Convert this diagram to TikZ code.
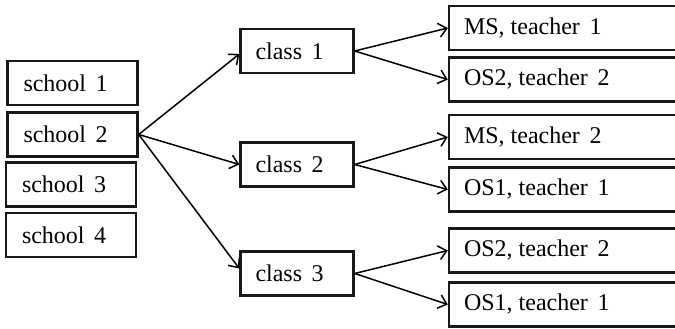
\documentclass[tikz,border=0pt]{standalone}
\usepackage{fontspec}
\setmainfont{Liberation Serif}
\usetikzlibrary{arrows.meta}
\begin{document}
\begin{tikzpicture}[x=1pt,y=-1pt,
  box/.style={draw=black!90,line width=2.4pt,minimum height=44pt,inner sep=0pt},
  schoolbox/.style={box,minimum width=130pt},
  classbox/.style={box,minimum width=113pt},
  teachbox/.style={box,minimum width=228pt},
  lbl/.style={anchor=west,inner sep=0pt,font=\fontsize{24}{27}\selectfont},
  arr/.style={line width=1.5pt,-{Straight Barb[length=8pt,width=14pt,line width=1.5pt]}}]
\useasboundingbox (0,0) rectangle (675,329);
% schools
\node[schoolbox] (s1) at (72.5,83) {};
\node[schoolbox] (s2) at (72.5,134.5) {};
\node[schoolbox] (s3) at (71,184.5) {};
\node[schoolbox] (s4) at (71,235) {};
\node[lbl] at ([xshift=17pt]s1.west) {school\hspace{0.4em}1};
\node[lbl] at ([xshift=17pt]s2.west) {school\hspace{0.4em}2};
\node[lbl] at ([xshift=17pt]s3.west) {school\hspace{0.4em}3};
\node[lbl] at ([xshift=17pt]s4.west) {school\hspace{0.4em}4};
% classes
\node[classbox] (c1) at (297,51) {};
\node[classbox] (c2) at (297,164.5) {};
\node[classbox] (c3) at (297,273.5) {};
\node[lbl] at ([xshift=16pt]c1.west) {class\hspace{0.4em}1};
\node[lbl] at ([xshift=16pt]c2.west) {class\hspace{0.4em}2};
\node[lbl] at ([xshift=16pt]c3.west) {class\hspace{0.4em}3};
% teachers
\node[teachbox] (t1) at (563,28) {};
\node[teachbox] (t2) at (563,79.5) {};
\node[teachbox] (t3) at (563,137) {};
\node[teachbox] (t4) at (563,189.5) {};
\node[teachbox] (t5) at (563,250.5) {};
\node[teachbox] (t6) at (563,304.5) {};
\node[lbl] at ([xshift=16pt]t1.west) {MS, teacher\hspace{0.4em}1};
\node[lbl] at ([xshift=16pt]t2.west) {OS2, teacher\hspace{0.4em}2};
\node[lbl] at ([xshift=16pt]t3.west) {MS, teacher\hspace{0.4em}2};
\node[lbl] at ([xshift=16pt]t4.west) {OS1, teacher\hspace{0.4em}1};
\node[lbl] at ([xshift=16pt]t5.west) {OS2, teacher\hspace{0.4em}2};
\node[lbl] at ([xshift=16pt]t6.west) {OS1, teacher\hspace{0.4em}1};
% connectors
\draw[arr] (s2.east) -- ([yshift=-3pt]c1.west);
\draw[arr] (s2.east) -- (c2.west);
\draw[arr] (s2.east) -- ([yshift=5pt]c3.west);
\draw[arr] (c1.east) -- (t1.west);
\draw[arr] (c1.east) -- (t2.west);
\draw[arr] (c2.east) -- (t3.west);
\draw[arr] (c2.east) -- (t4.west);
\draw[arr] (c3.east) -- (t5.west);
\draw[arr] (c3.east) -- (t6.west);
\end{tikzpicture}
\end{document}
